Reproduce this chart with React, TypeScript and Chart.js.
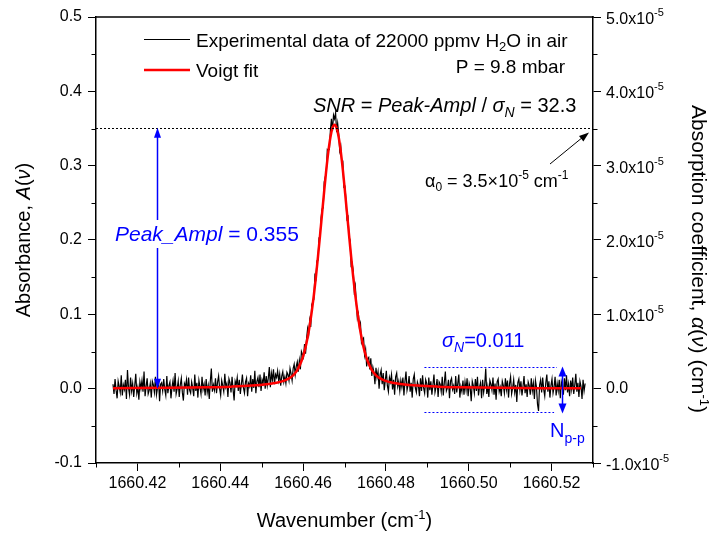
import React, { useEffect, useRef } from "react";
import { Chart, registerables } from "chart.js";

Chart.register(...registerables);

const FONT = "'Liberation Sans', Arial, Helvetica, sans-serif";

// Axes
const X_MIN = 1660.41;
const X_MAX = 1660.53;
const Y_MIN = -0.1;
const Y_MAX = 0.5;
const Y2_MIN = -1.0e-5;
const Y2_MAX = 5.0e-5;

const xTickValues = [1660.42, 1660.44, 1660.46, 1660.48, 1660.5, 1660.52];
const xTickLabels = ["1660.42", "1660.44", "1660.46", "1660.48", "1660.50", "1660.52"];
const xMinorTicks = [1660.41, 1660.43, 1660.45, 1660.47, 1660.49, 1660.51, 1660.53];
const yTickValues = [-0.1, 0, 0.1, 0.2, 0.3, 0.4, 0.5];
const yTickLabels = ["-0.1", "0.0", "0.1", "0.2", "0.3", "0.4", "0.5"];
const yMinorTicks = [-0.05, 0.05, 0.15, 0.25, 0.35, 0.45];
const y2TickValues = [-1.0e-5, 0, 1.0e-5, 2.0e-5, 3.0e-5, 4.0e-5, 5.0e-5];
const y2TickMantissa = ["-1.0", "0.0", "1.0", "2.0", "3.0", "4.0", "5.0"];
const y2TickExponent = ["-5", "", "-5", "-5", "-5", "-5", "-5"];

// Experimental spectrum (evenly sampled)
const EXP_START = 1660.4141;
const EXP_STEP = 0.00025;
const expValues = [
  0.006, -0.007, 0.013, -0.002, -0.013, 0.010, 0.003, -0.005, 0.018, -0.009, 0.005, -0.001, 0.012, -0.014, 0.025, 0.001, -0.008, 0.015, -0.003, 0.007,
  -0.011, 0.004, 0.020, -0.006, 0.002, -0.015, 0.009, 0.000, 0.011, -0.004, 0.023, -0.010, 0.003, 0.014, -0.007, -0.002, 0.007, -0.012, 0.010, 0.005,
  -0.005, 0.016, -0.008, 0.001, 0.012, -0.017, 0.006, 0.008, -0.003, 0.013, -0.001, -0.009, 0.017, -0.006, 0.004, 0.009, -0.013, 0.002, 0.011, -0.004,
  0.021, -0.007, 0.000, 0.010, -0.011, 0.005, 0.014, -0.005, -0.016, 0.007, 0.003, 0.012, -0.008, 0.015, -0.002, -0.006, 0.009, 0.001, -0.010, 0.019,
  -0.003, 0.008, -0.012, 0.011, 0.002, -0.007, 0.016, -0.001, 0.006, -0.009, 0.013, -0.005, 0.004, -0.014, 0.010, 0.027, -0.004, 0.005, -0.002, 0.014,
  -0.006, 0.009, 0.017, 0.000, -0.009, 0.011, 0.004, -0.004, 0.020, 0.002, 0.007, -0.011, 0.013, 0.008, -0.005, 0.016, -0.001, -0.016, 0.010, 0.005,
  0.015, -0.003, 0.012, -0.007, 0.006, 0.019, 0.001, -0.006, 0.009, 0.014, -0.010, 0.007, 0.003, 0.018, -0.004, 0.013, 0.001, 0.024, -0.006, 0.010,
  0.015, 0.002, 0.019, -0.003, 0.012, 0.007, 0.022, 0.000, 0.017, 0.004, 0.014, 0.029, 0.002, 0.021, 0.012, 0.026, 0.006, 0.019, 0.015, 0.024,
  0.011, 0.020, 0.004, 0.017, 0.023, 0.009, 0.016, 0.007, 0.022, 0.019, 0.011, 0.027, 0.020, 0.011, 0.027, 0.033, 0.019, 0.030, 0.036, 0.023,
  0.038, 0.026, 0.050, 0.046, 0.042, 0.060, 0.047, 0.068, 0.081, 0.073, 0.092, 0.083, 0.113, 0.117, 0.120, 0.152, 0.148, 0.172, 0.173, 0.203,
  0.204, 0.230, 0.242, 0.243, 0.278, 0.285, 0.289, 0.322, 0.321, 0.322, 0.348, 0.363, 0.347, 0.368, 0.363, 0.371, 0.345, 0.357, 0.343, 0.320,
  0.326, 0.303, 0.305, 0.271, 0.272, 0.254, 0.228, 0.231, 0.204, 0.200, 0.166, 0.169, 0.159, 0.132, 0.139, 0.116, 0.095, 0.101, 0.083, 0.088,
  0.062, 0.066, 0.068, 0.045, 0.053, 0.030, 0.040, 0.042, 0.026, 0.041, 0.017, 0.029, 0.022, 0.006, 0.028, 0.015, 0.023, 0.000, 0.019, 0.025,
  0.006, 0.021, -0.002, 0.011, 0.024, 0.004, -0.004, 0.015, 0.009, 0.019, -0.001, 0.012, -0.008, 0.016, 0.021, 0.003, 0.010, -0.003, 0.011, 0.002,
  0.015, -0.009, 0.010, 0.023, -0.002, 0.005, 0.017, -0.004, 0.008, -0.012, 0.013, 0.019, 0.001, -0.005, 0.009, 0.004, -0.010, 0.014, -0.003, 0.018,
  0.001, -0.006, 0.012, 0.007, -0.012, 0.015, -0.002, 0.010, -0.008, 0.005, 0.019, -0.005, 0.002, 0.013, -0.011, 0.009, 0.006, -0.004, 0.016, -0.009,
  0.008, 0.023, -0.003, 0.001, 0.012, -0.013, 0.010, 0.014, -0.001, 0.004, -0.007, 0.017, -0.005, 0.007, 0.019, -0.012, 0.003, -0.004, 0.011, -0.008,
  0.009, -0.002, 0.014, -0.010, 0.007, 0.001, -0.017, 0.010, 0.004, -0.006, 0.013, -0.003, 0.016, -0.009, 0.002, 0.008, -0.013, 0.012, -0.005, 0.005,
  0.027, -0.007, 0.003, -0.011, 0.011, 0.006, -0.002, 0.015, -0.008, 0.007, -0.015, 0.009, 0.013, -0.004, 0.002, -0.010, 0.010, 0.004, -0.006, 0.014,
  -0.001, 0.011, -0.012, 0.007, 0.016, -0.007, 0.001, 0.012, -0.005, 0.005, -0.018, 0.008, 0.013, -0.002, 0.010, -0.009, 0.003, 0.017, -0.006, 0.006,
  -0.011, 0.009, 0.004, -0.008, 0.014, -0.003, 0.007, -0.014, 0.011, 0.002, -0.021, -0.030, 0.005, 0.012, -0.005, 0.015, -0.001, -0.010, 0.008, 0.019,
  -0.004, 0.010, -0.012, 0.004, 0.013, -0.006, 0.002, 0.016, -0.009, 0.007, -0.003, 0.012, -0.013, 0.009, 0.003, -0.008, 0.014, -0.002, 0.018, -0.005,
  0.006, -0.010, 0.011, -0.001, 0.015, -0.007, 0.005, 0.020, -0.004, 0.008, -0.011, 0.010, 0.003, -0.014, 0.012, -0.003, 0.007,
];

// Voigt fit
const fitX = [
  1660.4141, 1660.4276, 1660.4376, 1660.4426, 1660.4476, 1660.4516, 1660.4536, 1660.4556, 1660.4566, 1660.4576,
  1660.4586, 1660.4596, 1660.4601, 1660.4606, 1660.4611, 1660.4616, 1660.4621, 1660.4626, 1660.4631, 1660.4636,
  1660.4641, 1660.4646, 1660.4651, 1660.4656, 1660.4661, 1660.4666, 1660.4671, 1660.4676, 1660.4681, 1660.4686,
  1660.4691, 1660.4696, 1660.4701, 1660.4706, 1660.4711, 1660.4716, 1660.4721, 1660.4726, 1660.4731, 1660.4736,
  1660.4741, 1660.4746, 1660.4751, 1660.4756, 1660.4766, 1660.4776, 1660.4786, 1660.4796, 1660.4816, 1660.4836,
  1660.4876, 1660.4926, 1660.4976, 1660.5076, 1660.5176, 1660.5271,
];
const fitY = [
  0.0006, 0.0011, 0.0019, 0.0027, 0.0041, 0.0063, 0.0080, 0.0111, 0.0138, 0.0180,
  0.0250, 0.0368, 0.0453, 0.0559, 0.0691, 0.0850, 0.1039, 0.1257, 0.1504, 0.1775,
  0.2065, 0.2364, 0.2661, 0.2942, 0.3188, 0.3382, 0.3507, 0.3550, 0.3507, 0.3382,
  0.3188, 0.2942, 0.2661, 0.2364, 0.2065, 0.1775, 0.1504, 0.1257, 0.1039, 0.0850,
  0.0691, 0.0559, 0.0453, 0.0368, 0.0250, 0.0180, 0.0138, 0.0111, 0.0080, 0.0063,
  0.0041, 0.0027, 0.0019, 0.0011, 0.0007, 0.0005,
];

// Annotation values
const PEAK_LINE_LEVEL = 0.351;
const PEAK_ARROW_X = 1660.4248;
const NOISE_TOP = 0.0296;
const NOISE_BOTTOM = -0.0318;
const NOISE_LINE_START = 1660.4893;
const NOISE_TOP_END = 1660.5213;
const NOISE_BOTTOM_END = 1660.5206;
const NOISE_ARROW_X = 1660.5225;

type Part = { t: string; size: number; it?: boolean; dy?: number };

function fontStr(size: number, italic?: boolean) {
  return `${italic ? "italic " : ""}${size}px ${FONT}`;
}

function partsWidth(ctx: CanvasRenderingContext2D, parts: Part[]) {
  let w = 0;
  for (const p of parts) {
    ctx.font = fontStr(p.size, p.it);
    w += ctx.measureText(p.t).width;
  }
  return w;
}

function drawParts(
  ctx: CanvasRenderingContext2D,
  parts: Part[],
  x: number,
  y: number,
  align: "left" | "center" | "right",
  color: string
) {
  const w = partsWidth(ctx, parts);
  let cx = align === "left" ? x : align === "center" ? x - w / 2 : x - w;
  ctx.fillStyle = color;
  ctx.textAlign = "left";
  ctx.textBaseline = "alphabetic";
  for (const p of parts) {
    ctx.font = fontStr(p.size, p.it);
    ctx.fillText(p.t, cx, y + (p.dy || 0));
    cx += ctx.measureText(p.t).width;
  }
  return w;
}

function arrowHead(
  ctx: CanvasRenderingContext2D,
  tipX: number,
  tipY: number,
  fromX: number,
  fromY: number,
  len: number,
  halfW: number,
  color: string
) {
  const a = Math.atan2(tipY - fromY, tipX - fromX);
  const bx = tipX - len * Math.cos(a);
  const by = tipY - len * Math.sin(a);
  ctx.beginPath();
  ctx.moveTo(tipX, tipY);
  ctx.lineTo(bx + halfW * Math.sin(a), by - halfW * Math.cos(a));
  ctx.lineTo(bx - halfW * Math.sin(a), by + halfW * Math.cos(a));
  ctx.closePath();
  ctx.fillStyle = color;
  ctx.fill();
}

function line(ctx: CanvasRenderingContext2D, x1: number, y1: number, x2: number, y2: number) {
  ctx.beginPath();
  ctx.moveTo(x1, y1);
  ctx.lineTo(x2, y2);
  ctx.stroke();
}

const annotationPlugin = {
  id: "annotationPlugin",
  afterDraw(chart: any) {
    const { ctx, chartArea: ca, scales } = chart;
    const xs = scales.x;
    const ys = scales.y;
    const y2s = scales.y2;
    ctx.save();

    // top frame
    ctx.strokeStyle = "#000";
    ctx.lineWidth = 1.5;
    line(ctx, ca.left - 0.75, ca.top, ca.right + 0.75, ca.top);

    // minor ticks
    ctx.lineWidth = 1;
    for (const v of xMinorTicks) {
      const px = Math.round(xs.getPixelForValue(v)) + 0.5;
      line(ctx, px, ca.bottom, px, ca.bottom + 4.5);
    }
    for (const v of yMinorTicks) {
      const py = Math.round(ys.getPixelForValue(v)) + 0.5;
      line(ctx, ca.left - 4.5, py, ca.left, py);
      line(ctx, ca.right, py, ca.right + 4.5, py);
    }

    // right axis labels
    y2TickValues.forEach((v, i) => {
      const py = y2s.getPixelForValue(v);
      if (y2TickExponent[i] === "") {
        ctx.font = fontStr(16);
        ctx.fillStyle = "#000";
        ctx.textAlign = "left";
        ctx.textBaseline = "middle";
        ctx.fillText(y2TickMantissa[i], 606, py);
      } else {
        drawParts(
          ctx,
          [
            { t: y2TickMantissa[i] + "x10", size: 16, dy: 0 },
            { t: y2TickExponent[i], size: 11, dy: -8 },
          ],
          606,
          py + 7,
          "left",
          "#000"
        );
      }
    });

    // axis titles
    ctx.save();
    ctx.translate(29.5, 240);
    ctx.rotate(-Math.PI / 2);
    drawParts(
      ctx,
      [
        { t: "Absorbance, ", size: 20 },
        { t: "A", size: 20, it: true },
        { t: "(", size: 20 },
        { t: "\u03bd", size: 20, it: true },
        { t: ")", size: 20 },
      ],
      0,
      0,
      "center",
      "#000"
    );
    ctx.restore();

    ctx.save();
    ctx.translate(692, 259);
    ctx.rotate(Math.PI / 2);
    drawParts(
      ctx,
      [
        { t: "Absorption coefficient, ", size: 21 },
        { t: "\u03b1", size: 21, it: true },
        { t: "(", size: 21 },
        { t: "\u03bd", size: 21, it: true },
        { t: ") (cm", size: 21 },
        { t: "-1", size: 13, dy: -8 },
        { t: ")", size: 21 },
      ],
      0,
      0,
      "center",
      "#000"
    );
    ctx.restore();

    drawParts(
      ctx,
      [
        { t: "Wavenumber (cm", size: 20 },
        { t: "-1", size: 13, dy: -8 },
        { t: ")", size: 20 },
      ],
      (ca.left + ca.right) / 2,
      527,
      "center",
      "#000"
    );

    // legend
    ctx.strokeStyle = "#000";
    ctx.lineWidth = 1;
    line(ctx, 144, 39.5, 190, 39.5);
    drawParts(
      ctx,
      [
        { t: "Experimental data of 22000 ppmv H", size: 19 },
        { t: "2", size: 13, dy: 4 },
        { t: "O in air", size: 19 },
      ],
      196,
      47,
      "left",
      "#000"
    );
    ctx.strokeStyle = "#ff0000";
    ctx.lineWidth = 2.5;
    line(ctx, 144, 70, 190, 70);
    drawParts(ctx, [{ t: "Voigt fit", size: 19 }], 196, 77, "left", "#000");
    drawParts(ctx, [{ t: "P = 9.8 mbar", size: 19 }], 565, 73, "right", "#000");

    // SNR text
    drawParts(
      ctx,
      [
        { t: "SNR", size: 20, it: true },
        { t: " = ", size: 20 },
        { t: "Peak-Ampl", size: 20, it: true },
        { t: " / ", size: 20 },
        { t: "\u03c3", size: 20, it: true },
        { t: "N", size: 14, it: true, dy: 5 },
        { t: " = 32.3", size: 20 },
      ],
      313,
      112,
      "left",
      "#000"
    );

    // dotted peak level line
    const yPeak = ys.getPixelForValue(PEAK_LINE_LEVEL);
    ctx.strokeStyle = "#000";
    ctx.lineWidth = 1;
    ctx.setLineDash([2, 2]);
    line(ctx, ca.left, Math.round(yPeak) + 0.5, ca.right, Math.round(yPeak) + 0.5);
    ctx.setLineDash([]);

    // alpha0 text and arrow
    drawParts(
      ctx,
      [
        { t: "\u03b1", size: 18 },
        { t: "0", size: 12, dy: 4 },
        { t: " = 3.5\u00d710", size: 18 },
        { t: "-5", size: 12, dy: -8 },
        { t: " cm", size: 18 },
        { t: "-1", size: 12, dy: -8 },
      ],
      425,
      187,
      "left",
      "#000"
    );
    ctx.strokeStyle = "#000";
    ctx.lineWidth = 1;
    line(ctx, 550, 164, 583, 137);
    arrowHead(ctx, 589, 132.5, 550, 164, 10, 3.5, "#000");

    // Peak amplitude arrow
    const BLUE = "#0000ff";
    const ax = Math.round(xs.getPixelForValue(PEAK_ARROW_X)) + 0.5;
    const ay0 = ys.getPixelForValue(0);
    const ay1 = yPeak;
    ctx.strokeStyle = BLUE;
    ctx.lineWidth = 1.5;
    line(ctx, ax, ay1 + 8, ax, ay0 - 8);
    arrowHead(ctx, ax, ay1, ax, ay0, 10, 3.5, BLUE);
    arrowHead(ctx, ax, ay0, ax, ay1, 10, 3.5, BLUE);

    const peakParts: Part[] = [
      { t: "Peak_Ampl", size: 21, it: true },
      { t: " = 0.355", size: 21 },
    ];
    const pw = partsWidth(ctx, peakParts);
    ctx.fillStyle = "#fff";
    ctx.fillRect(113, 220, pw + 4, 28);
    drawParts(ctx, peakParts, 115, 241, "left", BLUE);

    // noise band
    const nyTop = Math.round(ys.getPixelForValue(NOISE_TOP)) + 0.5;
    const nyBot = Math.round(ys.getPixelForValue(NOISE_BOTTOM)) + 0.5;
    ctx.strokeStyle = BLUE;
    ctx.lineWidth = 1;
    ctx.setLineDash([2, 2]);
    line(ctx, xs.getPixelForValue(NOISE_LINE_START), nyTop, xs.getPixelForValue(NOISE_TOP_END), nyTop);
    line(ctx, xs.getPixelForValue(NOISE_LINE_START), nyBot, xs.getPixelForValue(NOISE_BOTTOM_END), nyBot);
    ctx.setLineDash([]);
    const nx = Math.round(xs.getPixelForValue(NOISE_ARROW_X)) + 0.5;
    ctx.lineWidth = 1.5;
    line(ctx, nx, nyTop + 7, nx, nyBot - 7);
    arrowHead(ctx, nx, nyTop - 1, nx, nyBot, 10, 4, BLUE);
    arrowHead(ctx, nx, nyBot + 1, nx, nyTop, 10, 4, BLUE);

    drawParts(
      ctx,
      [
        { t: "\u03c3", size: 20, it: true },
        { t: "N", size: 14, it: true, dy: 5 },
        { t: "=0.011", size: 20 },
      ],
      442,
      347,
      "left",
      BLUE
    );
    drawParts(
      ctx,
      [
        { t: "N", size: 20 },
        { t: "p-p", size: 14, dy: 6 },
      ],
      550,
      437,
      "left",
      BLUE
    );

    ctx.restore();
  },
};

export default function App() {
  const canvasRef = useRef<HTMLCanvasElement | null>(null);

  useEffect(() => {
    document.body.style.margin = "0";
    const canvas = canvasRef.current;
    if (!canvas) return;

    const expPoints = expValues.map((y, i) => ({ x: EXP_START + i * EXP_STEP, y }));
    const fitPoints = fitX.map((x, i) => ({ x, y: fitY[i] }));

    const chart = new Chart(canvas, {
      type: "line",
      data: {
        datasets: [
          {
            label: "Voigt fit",
            data: fitPoints,
            borderColor: "#ff0000",
            borderWidth: 2.5,
            pointRadius: 0,
            cubicInterpolationMode: "monotone",
            fill: false,
          },
          {
            label: "Experimental data",
            data: expPoints,
            borderColor: "#000000",
            borderWidth: 1.2,
            pointRadius: 0,
            tension: 0,
            fill: false,
          },
        ],
      },
      options: {
        animation: false,
        responsive: false,
        devicePixelRatio: 1,
        events: [],
        layout: { padding: { top: 17, left: 0, right: 0, bottom: 0 } },
        plugins: {
          legend: { display: false },
          tooltip: { enabled: false },
          title: { display: false },
        },
        scales: {
          x: {
            type: "linear",
            position: "bottom",
            min: X_MIN,
            max: X_MAX,
            afterBuildTicks: (s: any) => {
              s.ticks = xTickValues.map((v) => ({ value: v }));
            },
            afterFit: (s: any) => {
              s.height = 74;
            },
            grid: {
              display: true,
              drawOnChartArea: false,
              drawTicks: true,
              tickLength: 8,
              color: "#000",
              lineWidth: 1,
            },
            border: { display: true, color: "#000", width: 1.5 },
            ticks: {
              color: "#000",
              font: { family: FONT, size: 16 },
              padding: 3,
              maxRotation: 0,
              autoSkip: false,
              callback: (_v: any, i: number) => xTickLabels[i],
            },
          },
          y: {
            type: "linear",
            position: "left",
            min: Y_MIN,
            max: Y_MAX,
            afterBuildTicks: (s: any) => {
              s.ticks = yTickValues.map((v) => ({ value: v }));
            },
            afterFit: (s: any) => {
              s.width = 96;
            },
            grid: {
              display: true,
              drawOnChartArea: false,
              drawTicks: true,
              tickLength: 8,
              color: "#000",
              lineWidth: 1,
            },
            border: { display: true, color: "#000", width: 1.5 },
            ticks: {
              color: "#000",
              font: { family: FONT, size: 16 },
              padding: 6,
              autoSkip: false,
              callback: (_v: any, i: number) => yTickLabels[i],
            },
          },
          y2: {
            type: "linear",
            position: "right",
            min: Y2_MIN,
            max: Y2_MAX,
            afterBuildTicks: (s: any) => {
              s.ticks = y2TickValues.map((v) => ({ value: v }));
            },
            afterFit: (s: any) => {
              s.width = 118;
            },
            grid: {
              display: true,
              drawOnChartArea: false,
              drawTicks: true,
              tickLength: 8,
              color: "#000",
              lineWidth: 1,
            },
            border: { display: true, color: "#000", width: 1.5 },
            ticks: { display: false },
          },
        },
      },
      plugins: [annotationPlugin],
    } as any);

    return () => {
      chart.destroy();
    };
  }, []);

  return (
    <div style={{ position: "absolute", left: 0, top: 0, width: 711, height: 537, background: "#fff" }}>
      <canvas ref={canvasRef} width={711} height={537} style={{ display: "block" }} />
    </div>
  );
}
